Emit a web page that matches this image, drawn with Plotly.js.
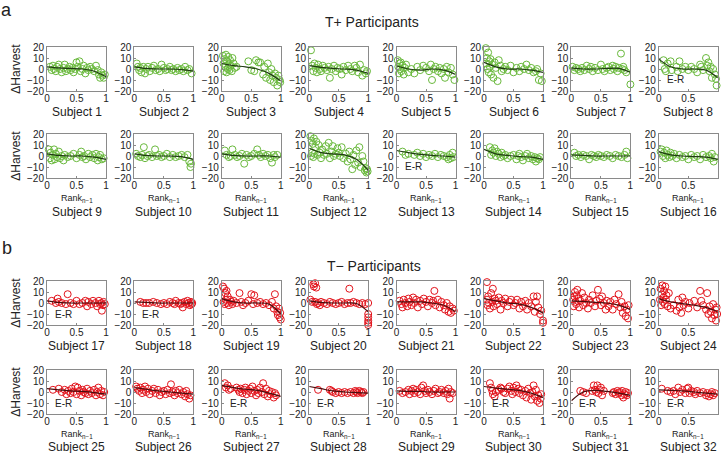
<!DOCTYPE html>
<html>
<head>
<meta charset="utf-8">
<script src="https://cdn.plot.ly/plotly-3.0.1.min.js"></script>
<style>
  html, body { margin: 0; padding: 0; background: #fff; }
  #chart { width: 721px; height: 453px; }
</style>
</head>
<body>
<div id="chart"></div>
<script>
// points: [rank(n-1), delta harvest]
const S1 = [[.05,2],[.08,-1],[.1,3],[.12,0],[.15,-2],[.17,2],[.2,4],[.22,0],[.25,-3],[.28,1],[.3,4],[.32,-2],[.35,0],[.38,2],[.4,-1],[.43,1],[.45,-3],[.48,0],[.5,6],[.52,2],[.55,7],[.57,-2],[.6,0],[.62,3],[.65,-4],[.68,1],[.7,-1],[.73,2],[.76,0],[.8,-2],[.83,3],[.86,-1],[.88,-5],[.9,-8],[.92,-3],[.94,-6],[.96,-8],[.98,-5]];
const S2 = [[.04,5],[.06,2],[.08,-1],[.1,1],[.12,-3],[.15,2],[.18,-4],[.2,0],[.23,2],[.26,-2],[.3,1],[.33,3],[.36,-1],[.4,0],[.43,-2],[.46,4],[.5,1],[.53,-1],[.56,0],[.6,2],[.63,-1],[.66,0],[.7,-2],[.73,1],[.76,-1],[.8,0],[.83,-2],[.86,2],[.9,-1],[.93,0],[.97,-4]];
const S3 = [[.02,12],[.03,5],[.04,-2],[.05,9],[.06,2],[.07,13],[.08,-3],[.09,7],[.1,0],[.11,11],[.12,4],[.13,-1],[.14,8],[.15,3],[.17,-2],[.18,10],[.2,5],[.22,1],[.25,2],[.45,7],[.5,-1],[.55,-2],[.58,8],[.62,6],[.65,6],[.7,-5],[.72,2],[.75,-8],[.78,5],[.8,-3],[.82,-10],[.84,0],[.86,-6],[.88,-12],[.9,-4],[.92,-8],[.94,-15],[.96,-6],[.98,-10],[.99,-12]];
const S4 = [[.03,17],[.05,3],[.07,-2],[.09,5],[.11,1],[.13,-3],[.15,4],[.18,0],[.2,-2],[.23,3],[.26,1],[.3,-1],[.33,2],[.35,-8],[.38,0],[.42,3],[.45,-2],[.48,1],[.52,0],[.55,-5],[.58,2],[.62,-1],[.66,3],[.7,0],[.73,-2],[.77,3],[.8,1],[.83,-3],[.86,4],[.9,-6],[.93,-1],[.96,-4],[.98,-2]];
const S5 = [[.02,8],[.03,2],[.04,-4],[.05,5],[.06,0],[.07,6],[.08,-2],[.1,3],[.12,-5],[.14,1],[.16,4],[.2,-3],[.25,0],[.3,-4],[.35,2],[.4,-1],[.45,3],[.5,1],[.55,-2],[.58,4],[.6,-10],[.63,0],[.66,2],[.7,-2],[.73,1],[.76,-4],[.8,0],[.82,-8],[.85,2],[.88,-3],[.92,1],[.95,-5],[.98,-10]];
const S6 = [[.03,19],[.04,5],[.05,10],[.06,0],[.07,15],[.08,-3],[.09,7],[.1,2],[.11,9],[.12,-5],[.14,4],[.16,-8],[.18,6],[.2,1],[.23,-11],[.25,8],[.28,3],[.3,-2],[.33,0],[.36,2],[.4,-1],[.45,3],[.5,-3],[.55,1],[.6,-2],[.63,2],[.68,0],[.72,4],[.76,-1],[.8,1],[.84,-3],[.88,-2],[.9,0],[.93,-10],[.96,-4],[.98,-11]];
const S7 = [[.02,2],[.05,-1],[.08,1],[.12,0],[.15,-2],[.18,1],[.22,-1],[.26,3],[.3,0],[.33,2],[.36,-2],[.4,1],[.45,-1],[.5,4],[.53,0],[.56,-2],[.6,1],[.63,2],[.66,-1],[.7,3],[.72,0],[.75,2],[.78,-2],[.8,1],[.84,14],[.86,0],[.88,2],[.9,-1],[.93,-3],[1,-14]];
const S8 = [[.08,8],[.1,0],[.12,-2],[.15,5],[.2,7],[.22,-1],[.3,2],[.32,-2],[.35,7],[.4,0],[.45,2],[.5,-1],[.55,2],[.6,0],[.65,-3],[.7,4],[.72,2],[.75,-1],[.8,10],[.82,3],[.84,6],[.86,-2],[.88,2],[.9,-8],[.92,0],[.95,-5],[.97,-9],[.98,-15]];
const S9 = [[.03,6],[.05,-2],[.06,3],[.08,-4],[.1,1],[.12,6],[.13,-3],[.15,2],[.17,-1],[.2,4],[.22,-2],[.25,0],[.28,-4],[.3,1],[.35,-1],[.4,0],[.45,2],[.5,-2],[.55,1],[.58,4],[.6,-1],[.63,0],[.66,-3],[.7,2],[.73,-1],[.77,1],[.8,-2],[.83,2],[.86,-4],[.88,-1],[.9,1],[.93,-3],[.96,-2]];
const S10 = [[.03,2],[.06,0],[.1,-1],[.13,1],[.16,8],[.18,-2],[.22,0],[.25,1],[.3,-1],[.35,6],[.38,0],[.42,1],[.46,-1],[.5,0],[.55,2],[.6,-1],[.65,1],[.7,-1],[.75,0],[.8,1],[.85,-1],[.9,1],[.93,-5],[.95,-10],[.96,-7]];
const S11 = [[.05,5],[.08,1],[.12,-1],[.15,0],[.18,6],[.22,1],[.26,-1],[.3,0],[.34,2],[.38,-7],[.42,1],[.46,-1],[.5,0],[.55,2],[.6,6],[.63,1],[.66,-1],[.7,2],[.74,0],[.78,1],[.82,-2],[.85,-6],[.88,1],[.9,-1],[.94,1]];
const S12 = [[.02,18],[.03,0],[.04,14],[.05,3],[.06,11],[.07,-1],[.08,16],[.09,2],[.1,8],[.12,13],[.14,1],[.16,10],[.18,3],[.2,-2],[.22,6],[.25,1],[.28,9],[.3,2],[.33,12],[.35,-2],[.38,4],[.4,9],[.42,0],[.45,2],[.48,7],[.5,3],[.52,0],[.55,8],[.58,-2],[.62,2],[.65,-5],[.68,4],[.7,-3],[.73,-12],[.75,1],[.78,-8],[.8,5],[.83,-6],[.85,8],[.87,-10],[.9,0],[.92,-5],[.94,-13],[.96,-11],[.97,-15],[.98,-12],[.99,-14]];
const S13 = [[.1,4],[.15,1],[.2,2],[.3,1],[.35,3],[.4,0],[.45,2],[.5,-1],[.55,1],[.6,0],[.65,2],[.7,-1],[.75,1],[.8,0],[.85,-1],[.88,-3],[.9,1],[.92,-2],[.95,3],[.96,-1]];
const S14 = [[.1,8],[.12,1],[.14,5],[.16,3],[.18,7],[.2,0],[.22,4],[.25,2],[.28,-1],[.3,3],[.33,0],[.36,1],[.4,-2],[.45,0],[.5,1],[.55,-3],[.58,0],[.6,2],[.63,-1],[.66,-4],[.7,0],[.73,2],[.76,-2],[.8,0],[.83,-3],[.86,-1],[.88,-5],[.9,-2],[.93,-3],[.95,-1]];
const S15 = [[.05,3],[.08,0],[.12,1],[.16,-1],[.2,1],[.25,0],[.3,-3],[.34,1],[.38,0],[.42,-1],[.46,1],[.5,0],[.55,-1],[.6,1],[.65,0],[.7,-2],[.75,1],[.8,0],[.85,-1],[.9,1],[.93,4],[.95,-2]];
const S16 = [[.03,4],[.05,6],[.07,0],[.09,3],[.11,-2],[.13,5],[.15,1],[.18,-1],[.2,3],[.23,0],[.26,2],[.3,-2],[.35,1],[.4,-1],[.45,0],[.5,-3],[.55,1],[.6,-1],[.65,0],[.7,-3],[.75,1],[.8,-1],[.85,0],[.88,-2],[.9,2],[.93,-5],[.95,-1]];
const S17 = [[.08,2],[.15,0],[.18,4],[.2,1],[.25,0],[.32,-1],[.35,8],[.4,0],[.45,-1],[.5,2],[.55,-1],[.6,0],[.65,2],[.68,-3],[.7,1],[.75,-1],[.78,2],[.82,0],[.85,-3],[.88,2],[.9,-1],[.92,0],[.93,-7],[.95,-2],[.96,1],[.98,-1]];
const S18 = [[.1,1],[.15,0],[.2,0],[.25,0],[.32,1],[.38,0],[.45,-1],[.5,0],[.55,-1],[.6,1],[.65,0],[.68,-1],[.7,2],[.75,0],[.78,-1],[.8,0],[.82,-4],[.85,1],[.88,-1],[.9,2],[.92,0],[.94,-2],[.96,1],[.97,-1],[.98,0]];
const S19 = [[.02,15],[.03,1],[.04,13],[.05,-1],[.06,9],[.07,3],[.08,11],[.09,0],[.1,6],[.12,-2],[.14,3],[.16,1],[.18,-1],[.2,2],[.25,0],[.3,9],[.33,1],[.36,-2],[.4,0],[.45,2],[.5,8],[.53,-1],[.55,7],[.6,0],[.65,1],[.7,-1],[.75,0],[.8,-2],[.85,1],[.88,-5],[.9,8],[.92,-3],[.94,-8],[.95,-11],[.97,-5],[.98,-13],[.99,-9],[1,-15]];
const S20 = [[.02,3],[.05,1],[.07,17],[.08,15],[.1,18],[.12,14],[.1,1],[.13,-1],[.15,0],[.18,-2],[.2,1],[.25,0],[.3,-1],[.35,1],[.4,0],[.45,-1],[.5,0],[.55,1],[.6,-1],[.65,0],[.68,13],[.7,0],[.75,1],[.8,0],[.85,-1],[.9,0],[.95,-1],[1,0],[1,-10],[1,-13],[1,-16],[1,-18],[1,-20]];
const S21 = [[.05,2],[.08,-1],[.1,-4],[.12,3],[.15,0],[.18,-3],[.2,4],[.22,1],[.25,-2],[.28,5],[.3,0],[.33,3],[.36,-4],[.4,2],[.43,-1],[.46,4],[.5,1],[.53,-3],[.56,3],[.6,0],[.62,2],[.64,11],[.66,-2],[.7,3],[.73,-4],[.76,1],[.8,-2],[.82,-6],[.85,0],[.88,-8],[.9,-3],[.92,-9],[.95,-5],[.97,-7]];
const S22 = [[.05,19],[.05,3],[.06,-2],[.07,6],[.08,0],[.1,-5],[.12,9],[.14,1],[.15,13],[.16,-3],[.18,4],[.2,2],[.22,-1],[.25,5],[.28,-6],[.3,2],[.33,0],[.36,4],[.4,-3],[.43,1],[.46,3],[.5,-2],[.53,0],[.56,3],[.6,-5],[.63,1],[.66,-3],[.7,2],[.73,-6],[.76,0],[.8,-3],[.84,6],[.86,-8],[.88,1],[.9,6],[.92,-4],[.95,-10],[.97,-7],[1,-16],[1,-18]];
const S23 = [[.03,3],[.04,-3],[.05,6],[.06,10],[.07,1],[.08,-1],[.09,7],[.1,12],[.12,4],[.13,-4],[.15,2],[.18,9],[.2,-2],[.22,5],[.25,0],[.28,-5],[.3,3],[.33,0],[.36,7],[.4,-3],[.42,2],[.45,12],[.48,4],[.5,-2],[.52,6],[.55,0],[.58,-6],[.6,2],[.63,-3],[.66,1],[.7,-6],[.73,3],[.76,-1],[.8,8],[.83,-4],[.85,1],[.87,-9],[.9,-3],[.92,-12],[.94,-6],[.96,-14],[.97,-2]];
const S24 = [[.02,3],[.03,13],[.04,-2],[.05,8],[.06,16],[.07,1],[.08,5],[.09,11],[.1,-1],[.11,15],[.12,3],[.13,7],[.15,-3],[.17,9],[.2,-5],[.25,-2],[.3,-7],[.33,3],[.35,-4],[.38,-9],[.4,5],[.42,-2],[.45,1],[.5,-5],[.52,0],[.6,2],[.65,-4],[.7,11],[.72,2],[.75,-2],[.8,-6],[.82,9],[.84,-10],[.86,-3],[.88,-8],[.9,-14],[.92,-1],[.94,-11],[.96,-6],[.97,-16],[.98,-4],[.99,-10]];
const S25 = [[.1,2],[.2,3],[.25,0],[.3,2],[.33,-2],[.36,1],[.4,-1],[.42,3],[.45,0],[.48,5],[.5,-2],[.52,4],[.55,1],[.58,-3],[.6,2],[.62,0],[.65,-1],[.68,3],[.7,-2],[.73,1],[.76,-1],[.8,2],[.83,-3],[.85,0],[.87,4],[.9,-2],[.92,1],[.95,-3],[.97,0]];
const S26 = [[.03,5],[.05,3],[.08,1],[.1,4],[.13,-1],[.15,2],[.18,5],[.2,0],[.23,3],[.26,-2],[.3,1],[.33,3],[.36,-1],[.4,2],[.43,-3],[.46,0],[.5,1],[.53,-2],[.56,2],[.6,-1],[.62,7],[.65,0],[.68,-3],[.7,1],[.73,-1],[.76,2],[.8,-2],[.83,0],[.86,-4],[.88,1],[.9,-2],[.93,-6],[.95,-3]];
const S27 = [[.05,8],[.07,4],[.1,6],[.12,2],[.15,3],[.25,4],[.28,2],[.3,0],[.32,3],[.35,-1],[.38,2],[.4,4],[.42,-2],[.45,1],[.48,3],[.5,-1],[.52,5],[.55,1],[.58,-3],[.6,2],[.62,-1],[.65,4],[.68,0],[.7,8],[.72,-2],[.75,3],[.78,-4],[.8,1],[.82,-2],[.85,0],[.88,-5],[.9,-1],[.92,-3]];
const S28 = [[.15,2],[.35,2],[.38,1],[.4,0],[.45,-1],[.5,0],[.55,-1],[.6,0],[.65,-1],[.7,0],[.75,-1],[.78,1],[.8,0],[.82,-1],[.85,1],[.88,0],[.9,-1],[.92,0]];
const S29 = [[.05,1],[.1,-1],[.15,0],[.2,2],[.22,-2],[.25,1],[.28,3],[.3,-1],[.33,2],[.36,0],[.4,-2],[.42,4],[.45,6],[.48,1],[.5,-1],[.53,2],[.56,0],[.6,-2],[.63,1],[.66,3],[.7,-1],[.73,0],[.76,2],[.8,-1],[.83,1],[.86,-2],[.88,3],[.9,-6],[.92,0],[.95,-1]];
const S30 = [[.1,8],[.12,4],[.14,1],[.15,-2],[.18,-4],[.2,0],[.25,2],[.28,4],[.3,3],[.33,0],[.36,-1],[.4,3],[.43,5],[.46,1],[.48,-2],[.5,4],[.53,0],[.55,6],[.58,3],[.6,-1],[.63,2],[.66,-3],[.7,1],[.72,-5],[.75,3],[.78,-1],[.8,-7],[.82,0],[.84,6],[.86,-4],[.88,2],[.9,-8],[.92,-3],[.94,-10],[.96,-6],[.97,-2]];
const S31 = [[.15,1],[.2,0],[.25,-1],[.35,1],[.38,6],[.4,2],[.42,0],[.44,6],[.46,-1],[.48,2],[.5,4],[.52,-3],[.55,1],[.7,-1],[.72,0],[.75,-2],[.78,1],[.8,-1],[.82,0],[.85,-3],[.86,1],[.88,-5],[.9,-2],[.92,0],[.94,-3],[.96,-1]];
const S32 = [[.05,3],[.15,1],[.2,0],[.25,1],[.28,-2],[.33,4],[.36,0],[.4,2],[.45,-1],[.48,3],[.5,4],[.52,-1],[.55,1],[.6,0],[.62,-2],[.65,1],[.7,-1],[.75,0],[.8,-3],[.82,-1],[.85,-4],[.88,-2],[.9,0],[.92,-3],[.95,-1]];

const subjects = [S1,S2,S3,S4,S5,S6,S7,S8,S9,S10,S11,S12,S13,S14,S15,S16,
                  S17,S18,S19,S20,S21,S22,S23,S24,S25,S26,S27,S28,S29,S30,S31,S32];

// fitted curve, read at these ranks
const fitX = [0, 0.2, 0.4, 0.6, 0.8, 1];
const fitY = [
  [2,1,0.5,0,-2,-7],[2,0.5,0,0,-0.5,-2],[5,3,2,0,-4,-11],[3,1.5,0.5,0,-1,-4],
  [3,0,-1,0,-1,-5],[6,2,0,0,-1,-3],[1,0,0,0.5,0.5,-3],[9,2,0,0,-1,-8],
  [2,0.5,0,0,-1,-3],[2,0.5,0,0,-0.5,-3],[2,0.5,0,0,0,-1],[7,3,2,1,-3,-13],
  [5,3,1.5,0.5,0,-1],[6,2,0.5,-0.5,-1,-3],[1,0.5,0,0,0,0],[4,1,0,-0.5,-1,-3],
  [2,0.5,0,0,0,0],[1,0.5,0,0,0,0],[4,1,0,0,-1,-10],[2,0.5,0,0,-0.5,-8],
  [1,1,1,0,-2,-8],[4,2,0,-1,-4,-9],[2,1.5,0.5,0,-2,-6],[4,1,-0.5,-2,-4,-8],
  [3,2,1,0.5,-0.5,-2],[4,2.5,1,0,-1,-2],[6,4,2.5,1.5,-1,-4],[5,3,1,0,-0.5,-1],
  [1,0.5,0.5,0,0,0],[5,3.5,2.5,1.5,-1,-5],[-8,0,1.5,0.5,-1,-3],[2,1.5,1,0,-1,-2]
];

const erSubjects = [8, 13, 17, 18, 25, 27, 28, 30, 31, 32];
const xTicks = [0, 0.5, 1];
const yTicks = [-20, -10, 0, 10, 20];

const W = 721, H = 453;
const FONT = "'Liberation Sans', Arial, sans-serif";
const GREEN = '#69b93c', RED = '#e2131b';
const colLeft = i => 47 + 87.4 * i;
const rowTop = [47, 134, 281, 370];
const labelRow = [112, 212, 346, 447];
const PW = 59, PH = 44;
const px = x => x / W;
const py = y => 1 - y / H;

const traces = [];
const layout = {
  width: W, height: H,
  margin: { l: 0, r: 0, t: 0, b: 0 },
  paper_bgcolor: '#fff', plot_bgcolor: '#fff',
  showlegend: false,
  font: { family: FONT, size: 10, color: '#222' },
  annotations: []
};

subjects.forEach((pts, k) => {
  const n = k + 1;
  const col = k % 8, row = Math.floor(k / 8);
  const red = n > 16;
  const xa = n === 1 ? 'xaxis' : 'xaxis' + n;
  const ya = n === 1 ? 'yaxis' : 'yaxis' + n;
  const xr = n === 1 ? 'x' : 'x' + n;
  const yr = n === 1 ? 'y' : 'y' + n;
  const x0 = colLeft(col), y0 = rowTop[row];

  const axCommon = {
    showline: true, mirror: true, linecolor: '#8a8a8a', linewidth: 1,
    showgrid: false, zeroline: false, ticks: 'inside', ticklen: 2,
    tickcolor: '#8a8a8a', tickfont: { family: FONT, size: 10, color: '#222' }
  };
  layout[xa] = Object.assign({}, axCommon, {
    domain: [px(x0), px(x0 + PW)], anchor: yr, range: [0, 1],
    tickvals: xTicks, ticktext: ['0', '0.5', '1'], ticklabelstandoff: -2
  });
  layout[ya] = Object.assign({}, axCommon, {
    domain: [py(y0 + PH), py(y0)], anchor: xr, range: [-20, 20],
    tickvals: yTicks
  });
  if (col === 0) {
    layout[ya].title = { text: 'ΔHarvest', standoff: 3, font: { family: FONT, size: 12, color: '#222' } };
  }

  traces.push({
    x: pts.map(p => p[0]), y: pts.map(p => p[1]),
    xaxis: xr, yaxis: yr, type: 'scatter', mode: 'markers', cliponaxis: false,
    marker: { symbol: 'circle-open', size: 7, color: red ? RED : GREEN, line: { width: 1 } }
  });
  traces.push({
    x: fitX, y: fitY[k], xaxis: xr, yaxis: yr, type: 'scatter', mode: 'lines',
    line: { shape: 'spline', width: 1.2, color: red ? '#4a0d0d' : '#1f3a12' }
  });

  layout.annotations.push({
    xref: 'paper', yref: 'paper', x: px(x0 + PW / 2), y: py(labelRow[row]),
    text: 'Subject ' + n, showarrow: false, xanchor: 'center', yanchor: 'middle',
    font: { family: FONT, size: 12, color: '#222' }
  });
  if (row === 1 || row === 3) {
    layout.annotations.push({
      xref: 'paper', yref: 'paper', x: px(x0 + PW / 2), y: py(rowTop[row] + 64),
      text: 'Rank<sub>n−1</sub>', showarrow: false, xanchor: 'center', yanchor: 'middle',
      font: { family: FONT, size: 9, color: '#222' }
    });
  }
  if (erSubjects.includes(n)) {
    layout.annotations.push({
      xref: xr, yref: yr, x: 0.28, y: -10,
      text: 'E-R', showarrow: false, xanchor: 'center', yanchor: 'middle',
      font: { family: FONT, size: 10, color: '#222' }
    });
  }
});

// panel letters and group titles
[['a', 7, 10], ['b', 7, 248]].forEach(([t, x, y]) => {
  layout.annotations.push({ xref: 'paper', yref: 'paper', x: px(x), y: py(y), text: t,
    showarrow: false, xanchor: 'center', yanchor: 'middle', font: { family: FONT, size: 18, color: '#222' } });
});
[['T+ Participants', 22, 372], ['T− Participants', 266, 374]].forEach(([t, y, x]) => {
  layout.annotations.push({ xref: 'paper', yref: 'paper', x: px(x), y: py(y), text: t,
    showarrow: false, xanchor: 'center', yanchor: 'middle', font: { family: FONT, size: 14, color: '#222' } });
});

Plotly.newPlot('chart', traces, layout, { displayModeBar: false, staticPlot: true });
</script>
</body>
</html>
